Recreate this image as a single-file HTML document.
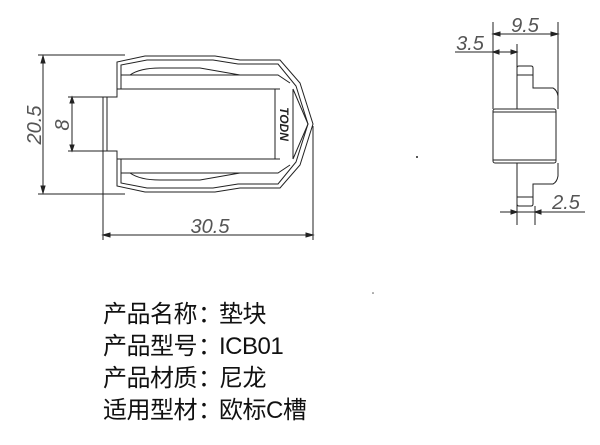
<!DOCTYPE html>
<html><head><meta charset="utf-8"><style>
body{margin:0;background:#fff;width:600px;height:445px;overflow:hidden;position:relative}
svg{position:absolute;left:0;top:0}
.t{position:absolute;left:103px;font:24px "Liberation Sans","Noto Sans CJK SC",sans-serif;color:#111;letter-spacing:-0.5px;white-space:nowrap}
.c{display:inline-block;width:20px;text-align:center;margin:0 1px}
</style></head><body>
<svg width="600" height="445" viewBox="0 0 600 445" fill="none" stroke="#222" stroke-width="1">
<g font-family="Liberation Sans" font-size="20" fill="#555" stroke="none" font-style="italic" text-anchor="middle">
<text x="41" y="125" transform="rotate(-90 41 125)">20.5</text>
<text x="69" y="125" transform="rotate(-90 69 125)">8</text>
<text x="210" y="233">30.5</text>
<text x="525" y="32">9.5</text>
<text x="470" y="50">3.5</text>
<text x="566" y="209">2.5</text>
</g>
<line x1="38" y1="55" x2="125" y2="55"/><line x1="38" y1="194" x2="125" y2="194"/>
<line x1="43" y1="57" x2="43" y2="192"/>
<path d="M43 56 l-2 7 h4z M43 193 l-2 -7 h4z" fill="#222"/>
<line x1="68" y1="97" x2="105" y2="97"/><line x1="68" y1="151" x2="105" y2="151"/>
<line x1="72" y1="98" x2="72" y2="150"/>
<path d="M72 97 l-2 6 h4z M72 151 l-2 -6 h4z" fill="#222"/>
<line x1="103" y1="151" x2="103" y2="240"/><line x1="313" y1="126" x2="313" y2="240"/>
<line x1="104" y1="235" x2="312" y2="235"/>
<path d="M103 235 l7 -2 v4z M313 235 l-7 -2 v4z" fill="#222"/>
<path d="M103 97 H117 V89 H280 M103 151 H117 V159 H280"/>
<path d="M103 97 V151 M107 97 V151"/>
<path d="M117 89 V62 L145 56 H215 L240 60 H280 L300 83 L313 124 L300 165 L280 188 H240 L215 192 H145 L117 186 V159"/>
<path d="M121 89 V65 L147 60 H213 L238 64 H278 L296 86 L308 124 L296 162 L278 184 H238 L213 188 H147 L121 183 V159"/>
<path d="M121 75 H278 L290 83 M121 173 H278 L290 165"/>
<path d="M130 75 Q140 68 160 68 H200 L240 75 M130 173 Q140 180 160 180 H200 L240 173"/>
<path d="M275 89 V159 M293 89 V159 M293 89 L308 124 L293 159"/>
<text x="284" y="124" font-family="Liberation Sans" font-size="12" font-weight="bold" font-style="italic" fill="#222" stroke="none" text-anchor="middle" transform="rotate(90 284 124)" dy="4">TODN</text>
<line x1="493" y1="22" x2="493" y2="109"/><line x1="558" y1="22" x2="558" y2="100"/>
<line x1="494" y1="34" x2="557" y2="34"/>
<path d="M493 34 l7 -2 v4z M558 34 l-7 -2 v4z" fill="#222"/>
<line x1="455" y1="52" x2="517" y2="52"/><line x1="517" y1="44" x2="517" y2="109"/>
<path d="M493 52 l6 -2 v4z M517 52 l-6 -2 v4z" fill="#222"/>
<rect x="493" y="109" width="63" height="54" rx="2"/>
<line x1="493" y1="112" x2="556" y2="112"/><line x1="493" y1="160" x2="556" y2="160"/>
<path d="M519 66 H531 Q533 66 533 68 V75 H517 V68 Q517 66 519 66Z M533 75 V88 H553 Q557 90 558 96 V109"/>
<path d="M519 206 H531 Q533 206 533 204 V197 H517 V204 Q517 206 519 206Z M533 197 V184 H553 Q557 182 558 176 V163"/>
<line x1="517" y1="163" x2="517" y2="225"/><line x1="535" y1="206" x2="535" y2="225"/>
<line x1="500" y1="212" x2="585" y2="212"/>
<path d="M517 212 l-6 -2 v4z M535 212 l6 -2 v4z" fill="#222"/>
<circle cx="417" cy="157" r="1" fill="#222" stroke="none"/>
<circle cx="373" cy="293" r="0.8" fill="#555" stroke="none"/>
</svg>
<div class="t" style="top:294px">产品名称<span class="c">：</span>垫块</div>
<div class="t" style="top:326px">产品型号<span class="c">：</span>ICB01</div>
<div class="t" style="top:358px">产品材质<span class="c">：</span>尼龙</div>
<div class="t" style="top:390px">适用型材<span class="c">：</span>欧标C槽</div>
</body></html>
